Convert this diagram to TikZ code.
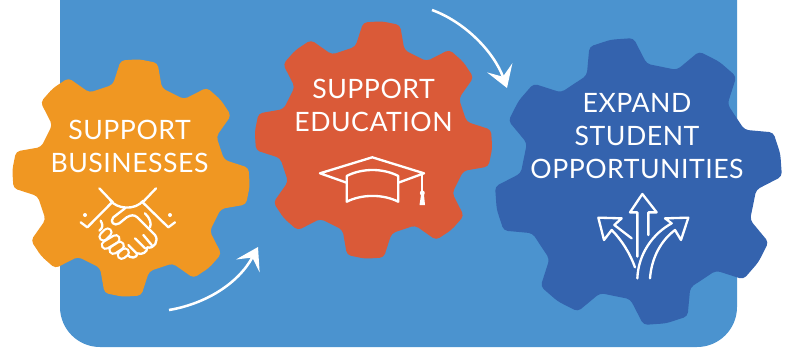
\documentclass[tikz,border=0pt]{standalone}
\usepackage{fontspec}
\setmainfont{Lato}[LetterSpace=1.9]
\usetikzlibrary{arrows.meta}
\definecolor{panelblue}{HTML}{4B93CF}
\definecolor{gearorange}{HTML}{F09722}
\definecolor{gearred}{HTML}{DA5A38}
\definecolor{geardeep}{HTML}{3463AE}
\tikzset{
	geartext/.style={text=white,align=center,inner sep=0pt,font=\fontsize{20}{24.75}\selectfont},
	iconline/.style={white,line width=1.75pt,line cap=round,line join=round},
	flowarrow/.style={white,line width=1.9pt,-{Stealth[length=16pt,width=20pt,inset=7pt]}},
	fingerloop/.style={white,line width=1.75pt,line cap=round,double=gearorange,double distance=4pt}
}
\begin{document}
\begin{tikzpicture}[x=0.75pt,y=-0.75pt]
	\useasboundingbox (0,0) rectangle (786,347);
	\fill[panelblue] (60,0) {[rounded corners=30pt] -- (60,347) -- (737,347)} -- (737,0) -- cycle;

	%%gears
	\foreach \x/\y/\r/\b/\rot/\col in {131/178/118/95/4/gearorange, 373.5/140/118/95/4/gearred, 638.5/181.5/143.5/118/-11/geardeep}
	{
		\begin{scope}[shift={(\x,\y)}]
			\fill[\col,rounded corners=3pt] (\rot-22.5:\b*0.99)
			\foreach \k in {0,...,7}
			{
				-- ({\rot+\k*45-15}:\b) -- ({\rot+\k*45-9}:\r) -- ({\rot+\k*45}:\r+1) -- ({\rot+\k*45+9}:\r) -- ({\rot+\k*45+15}:\b)
			} -- cycle;
		\end{scope}
	}

	%%nodes
	\node[geartext] (bizText) at (129.5,146) {SUPPORT\\BUSINESSES};
	\node[geartext] (eduText) at (373.5,105) {SUPPORT\\EDUCATION};
	\node[geartext] (oppText) at (637,136) {EXPAND\\STUDENT\\OPPORTUNITIES};

	%%arrows
	\coordinate (bizStart) at (169,310);
	\coordinate (bizTip) at (258,247);
	\coordinate (eduStart) at (432,10);
	\coordinate (eduTip) at (507,88);
	\draw[flowarrow] (bizStart) .. controls (205,304) and (238,284) .. (bizTip);
	\draw[flowarrow] (eduStart) .. controls (465,22) and (494,52) .. (eduTip);

	%%cap
	\draw[iconline] (346.7,182.7)--(320,173.3)--(372.3,157.3)--(424,173.3)--(398.3,182.7);
	\draw[iconline] (346.7,176) .. controls (362,168) and (383,168) .. (398.3,176)--(398.3,201.7) .. controls (383,194) and (362,194) .. (346.7,201.7)--cycle;
	\draw[iconline] (422.3,173.3)--(422.3,192);
	\fill[white] (422.3,193) circle (2.5);
	\fill[white] (421,195)--(424,195)--(425,205)--(419.5,205)--cycle;

	%%handshake
	\begin{scope}[shift={(60,170)},x=0.25pt,y=-0.25pt]
		\draw[iconline] (118,55)--(158,97);
		\draw[iconline] (288,55)--(248,97);
		\draw[iconline] (158,95)--(82,172)--(62,157);
		\draw[iconline] (248,97)--(325,172)--(345,157);
		\fill[white] (75,135) circle (6);
		\fill[white] (330,135) circle (6);
		\draw[iconline] (150,90) .. controls (170,118) and (225,122) .. (250,92);
		\draw[iconline] (195,115)--(160,142) .. controls (148,155) and (162,170) .. (178,160)--(200,142) .. controls (212,135) and (222,133) .. (232,142)--(285,195) .. controls (298,212) and (282,238) .. (262,232) .. controls (262,248) and (245,255) .. (233,250) .. controls (230,265) and (212,268) .. (200,252);
		\draw[iconline] (255,130) .. controls (270,145) and (275,160) .. (270,172);
		\draw[iconline] (122,152) .. controls (130,165) and (128,175) .. (118,182);
		\foreach \xa/\ya/\xb/\yb in {130/200/143/187, 137/225/167/207, 160/240/180/227, 185/255/195/247}
		{
			\draw[fingerloop] (\xa,\ya)--(\xb,\yb);
		}
		\draw[iconline] (250,195)--(275,225);
		\draw[iconline] (225,205)--(255,235);
		\draw[iconline] (205,225)--(230,250);
	\end{scope}

	%%paths icon
	\begin{scope}[shift={(580,180)},x=0.25pt,y=-0.25pt]
		\draw[iconline] (172,230)--(172,97)--(150,97)--(187,42)--(230,97)--(205,97)--(205,165);
		\draw[iconline] (165,262) .. controls (150,220) and (125,180) .. (95,150)--(72,180)--(55,113)--(125,115)--(103,135)--(155,175);
		\draw[iconline] (172,295) .. controls (175,220) and (220,160) .. (275,130)--(255,115)--(325,113)--(303,180)--(285,150) .. controls (245,180) and (215,230) .. (210,295);
	\end{scope}
\end{tikzpicture}
\end{document}
